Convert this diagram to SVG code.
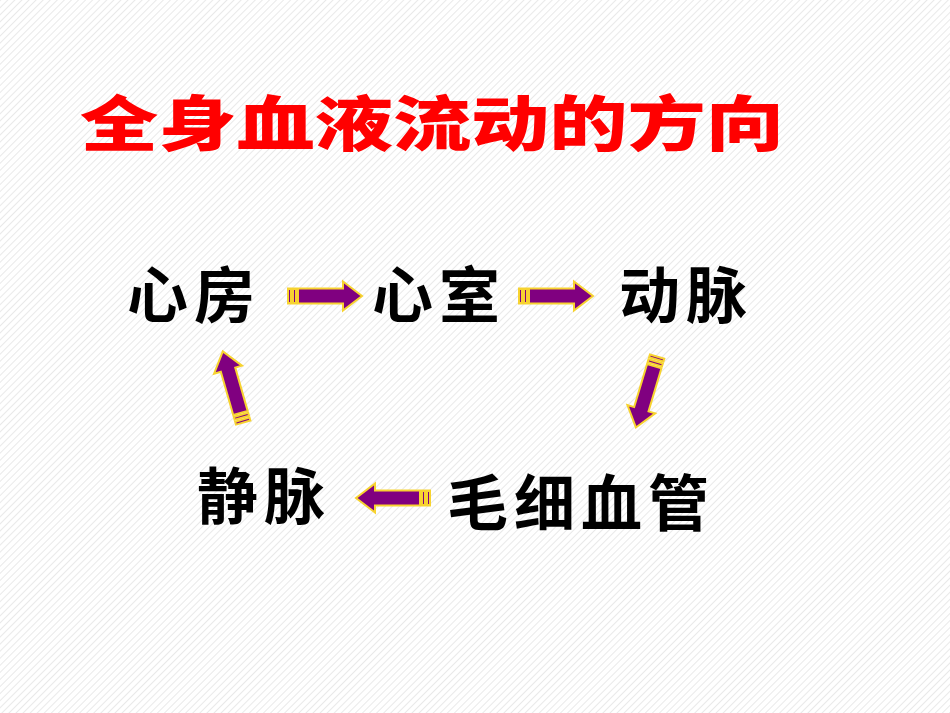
<svg xmlns="http://www.w3.org/2000/svg" width="950" height="713" viewBox="0 0 950 713">
  <defs>
    <pattern id="hatch" patternUnits="userSpaceOnUse" width="5" height="5" patternTransform="rotate(45)">
      <rect width="5" height="5" fill="#ffffff"/>
      <line x1="0" y1="0" x2="0" y2="5" stroke="#dadada" stroke-width="1.2"/>
    </pattern>
    <g id="arrow">
      <rect x="-37" y="-7.5" width="3" height="15"/>
      <rect x="-32" y="-7.5" width="3" height="15"/>
      <path d="M -27,-7.5 H 18 V -14.5 L 37,0 L 18,14.5 V 7.5 H -27 Z"/>
    </g>
  </defs>
  <style>
    .title { font-family: "Noto Sans CJK SC", sans-serif; font-weight: 900; font-size: 60px; fill: #ff0000; }
    .node { font-family: "Noto Sans CJK SC", sans-serif; font-weight: 700; font-size: 61px; fill: #000000; letter-spacing: 6px; }
    .arr { fill: #800080; stroke: #f7d330; stroke-width: 2; stroke-linejoin: miter; }
  </style>
  <rect width="950" height="713" fill="url(#hatch)"/>
  <text class="title" x="80" y="146" textLength="704" lengthAdjust="spacingAndGlyphs">全身血液流动的方向</text>

  <g id="node-xinfang"><text class="node" x="127" y="318">心房</text></g>
  <g id="node-xinshi"><text class="node" x="372" y="318">心室</text></g>
  <g id="node-dongmai"><text class="node" x="619" y="318">动脉</text></g>
  <g id="node-maoxixueguan"><text class="node" x="447" y="526">毛细血管</text></g>
  <g id="node-jingmai"><text class="node" x="197" y="519">静脉</text></g>

  <g id="connectors" class="arr">
    <use href="#arrow" transform="translate(325,296)"/>
    <use href="#arrow" transform="translate(556,296)"/>
    <use href="#arrow" transform="translate(646.5,392) rotate(106.7)"/>
    <use href="#arrow" transform="translate(393,498) rotate(180)"/>
    <use href="#arrow" transform="translate(233,387) rotate(-106)"/>
  </g>
</svg>
